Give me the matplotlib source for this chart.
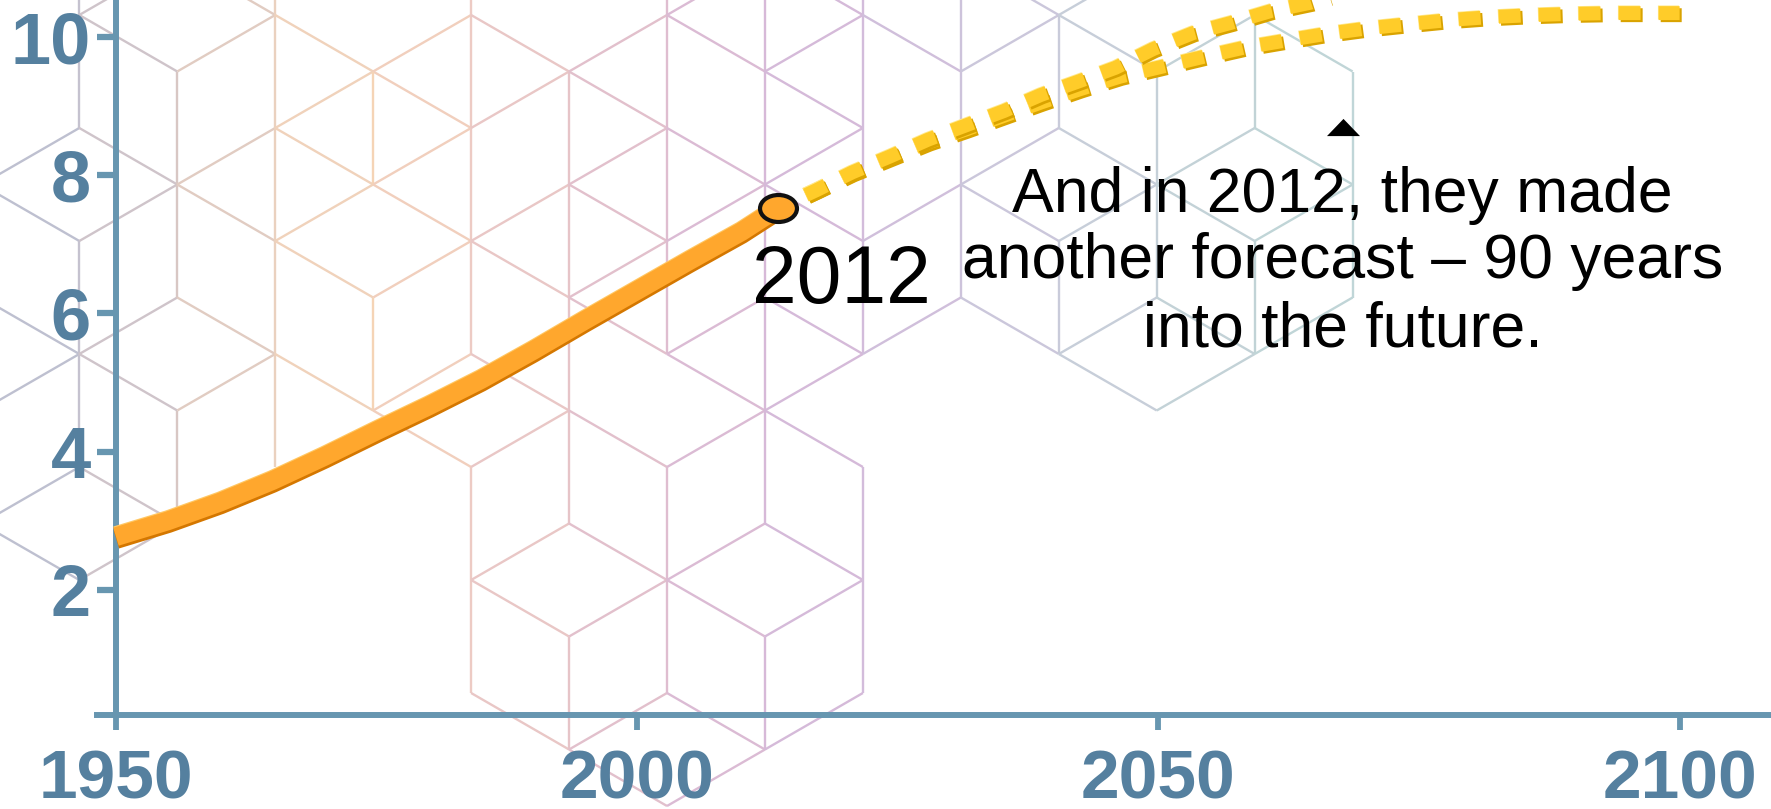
import numpy as np
import matplotlib
matplotlib.use("Agg")
import matplotlib.pyplot as plt
import matplotlib.patheffects as pe
from matplotlib.collections import LineCollection
from matplotlib.colors import LinearSegmentedColormap
from matplotlib.path import Path

plt.rcParams["lines.scale_dashes"] = False

# world population (billions)
hist_years = [1950, 1955, 1960, 1965, 1970, 1975, 1980, 1985, 1990, 1995, 2000, 2005, 2010, 2013.5]
hist_pop = [2.77, 3.0, 3.27, 3.58, 3.93, 4.30, 4.66, 5.04, 5.46, 5.90, 6.33, 6.76, 7.18, 7.52]

low_years = [2013.5, 2017.2, 2020.6, 2024.3, 2027.9, 2031.6, 2035.2, 2038.7, 2042.5,
             2046.3, 2050.5, 2054.4, 2058.2, 2062.1, 2066.1, 2070.1, 2073.9, 2077.9,
             2081.6, 2085.7, 2089.9, 2093.8, 2097.6, 2100]
low_pop = [7.52, 7.78, 8.025, 8.25, 8.47, 8.66, 8.855, 9.045, 9.24,
           9.42, 9.57, 9.71, 9.84, 9.94, 10.04, 10.12, 10.18, 10.24,
           10.28, 10.31, 10.33, 10.34, 10.34, 10.34]

high_years = [2013.5, 2017.2, 2020.6, 2024.3, 2027.9, 2031.6, 2035.2, 2038.7, 2042.5,
              2045.9, 2049.5, 2053.3, 2057.0, 2060.8, 2064.6, 2070]
high_pop = [7.52, 7.78, 8.035, 8.27, 8.51, 8.72, 8.925, 9.155, 9.36,
            9.55, 9.82, 10.05, 10.20, 10.37, 10.49, 10.75]

x_ticks = [1950, 2000, 2050, 2100]
y_ticks = [2, 4, 6, 8, 10]

year_label = "2012"
note_lines = ["And in 2012, they made", "another forecast \u2013 90 years", "into the future."]

axis_c = "#6796b0"
label_c = "#55809f"
font = "Liberation Sans"

fig = plt.figure(figsize=(17.71, 8.09), dpi=100)

# ---- decorative cube lattice in the background (pixel space) ----
bg = fig.add_axes([0, 0, 1, 1], zorder=0)
bg.set_xlim(0, 1771)
bg.set_ylim(809, 0)
bg.axis("off")

lattice = {
    -1: "u3 d3 d5 u7 u9 d9",
    0: "v-2 v0 u0 d0 d2 u4 v4 v6 u6 d6 d8 u10",
    1: "d-1 u1 v1 v3 u3 d3 d5 u7 v7",
    2: "v-2 v0 d0 v2 u2 d2 v4 u4 d4 v6 d6",
    3: "u1 d1 v1 u3 d3 u5 v5 u7 d7",
    4: "v-2 v0 d0 v2 u2 v4 u4 d4 d6 u8 v8 v10 u10 d10 d12",
    5: "u1 v1 d1 v3 u3 d3 v5 u5 d5 v7 d7 d9 u11 v11 u13 d13",
    6: "v-2 u0 v0 d0 v2 d2 v4 u4 u6 d6 u8 v8 v10 u10 d10 d12 u14",
    7: "d-1 v-1 u1 v1 d1 v3 u3 d3 v5 d5 u7 v7 d7 d9 u11 v11 u13",
    8: "v-2 v0 d0 v2 v4 u4 u6 v8 v10",
    9: "d-1 v-1 u1 v1 v3 u3 d3 d5",
    10: "u0 v0 d0 d2 v4 u4 u6 d6",
    11: "u1 v1 v3 u3 d3 d5 u7",
    12: "v0 d0 d2 v4 u4 u6",
    13: "v1 v3",
}
step = {"v": (0, 2), "d": (1, 1), "u": (1, -1)}


def vert(i, j):
    return (79.3 + 97.95 * i, 15 + 56.5 * j)


segs = []
for i, spec in lattice.items():
    for tok in spec.split():
        di, dj = step[tok[0]]
        j = int(tok[1:])
        segs.append([vert(i, j), vert(i + di, j + dj)])

grad_x = [0, 80, 177, 275, 373, 471, 569, 667, 765, 863, 961, 1060, 1157, 1255, 1353, 1771]
grad_c = ["#b9bfd1", "#c6c2cf", "#d9c7c4", "#ebd1bf", "#f6d4b6", "#edcbc4", "#e6c4c8",
          "#dfbdd0", "#d7b9d8", "#d3bcdb", "#cdc3db", "#c9cbda", "#c5d0d8", "#c1d3d6",
          "#c0d6d8", "#c0d6d8"]
cmap = LinearSegmentedColormap.from_list("cubes", list(zip(np.array(grad_x) / 1771, grad_c)))
mids = np.array([(a[0] + b[0]) / 2 for a, b in segs])
bg.add_collection(LineCollection(segs, colors=cmap(mids / 1771), linewidths=1.7))

# ---- main chart ----
ax = fig.add_axes([0.05477, 0.11582, 0.96426, 0.9073], zorder=1)
ax.patch.set_alpha(0)
ax.set_xlim(1948.18, 2112)
ax.set_ylim(0.188, 10.8)

for s in ["top", "right"]:
    ax.spines[s].set_visible(False)
ax.spines["left"].set_position(("data", 1950))
for s in ["left", "bottom"]:
    ax.spines[s].set_color(axis_c)
    ax.spines[s].set_linewidth(4.3)

ax.set_xticks(x_ticks)
ax.set_yticks(y_ticks)
ax.tick_params(axis="x", length=10.8, width=4.2, color=axis_c, pad=13,
               labelsize=50, labelcolor=label_c)
ax.tick_params(axis="y", length=13.7, width=4.5, color=axis_c, pad=4.5,
               labelsize=52, labelcolor=label_c)
for lab in ax.get_xticklabels() + ax.get_yticklabels():
    lab.set_fontfamily(font)
    lab.set_fontweight("bold")

# forecasts (dashed yellow blocks)
dash_fx = [pe.Stroke(linewidth=10, foreground="#ffe98c", offset=(-0.5, 0.5)),
           pe.Stroke(linewidth=10, foreground="#d9a300", offset=(1.5, -1.5)),
           pe.Normal()]
for yrs, vals in [(low_years, low_pop), (high_years, high_pop)]:
    ax.plot(yrs, vals, color="#ffcc29", lw=10, linestyle=(6.5, (15.8, 13.0)),
            dash_capstyle="butt", path_effects=dash_fx, zorder=3)

# historical line
hist_fx = [pe.Stroke(linewidth=13.5, foreground="#ffc864", offset=(0, 0.9)),
           pe.Stroke(linewidth=13.5, foreground="#d47700", offset=(0.3, -2.0)),
           pe.Normal()]
ax.plot(hist_years, hist_pop, color="#ffa72d", lw=13.5, solid_capstyle="butt",
        solid_joinstyle="round", path_effects=hist_fx, zorder=4)

circ = Path.unit_circle()
ellipse = Path(circ.vertices * [1.0, 0.73], circ.codes)
ax.plot(hist_years[-1], hist_pop[-1], marker=ellipse, ms=26.6, mew=3.0,
        mfc="#ffa72d", mec="#111111", zorder=5)

ax.text(2019.55, 6.15, year_label, ha="center", va="baseline", fontsize=58,
        family=font, color="black", zorder=6)

note_x = 2067.67
note_y = [7.464, 6.51, 5.514]
for line, y in zip(note_lines, note_y):
    ax.text(note_x, y, line, ha="center", va="baseline", fontsize=45,
            family=font, color="black", zorder=6)

tri = Path([(-1, -0.52), (1, -0.52), (0, 0.52), (-1, -0.52)],
           [Path.MOVETO, Path.LINETO, Path.LINETO, Path.CLOSEPOLY])
ax.plot(note_x, 8.70, marker=tri, ms=23.8, color="black", mew=0, zorder=6)

fig.savefig("out.png", dpi=100)
